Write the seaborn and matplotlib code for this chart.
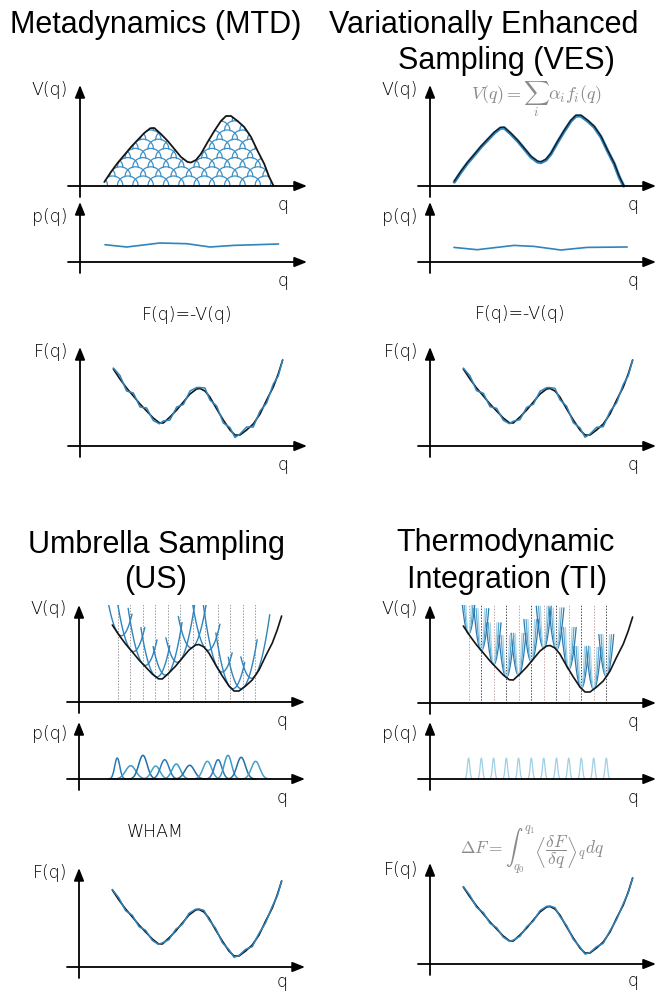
import numpy as np
import pandas as pd
import matplotlib
matplotlib.use("Agg")
import matplotlib.pyplot as plt
from matplotlib.path import Path
import seaborn as sns

sns.set_theme(style="white")
plt.rcParams["font.family"] = ["DejaVu Sans"]
plt.rcParams["mathtext.fontset"] = "cm"
plt.rcParams["text.color"] = "black"

W, H = 669, 992
PX_Q = 17.0   # pixels per q unit
PX_E = 10.0   # pixels per energy unit

BLUE = "#2f84bd"
HILL_BLUE = "#3c90c6"
BLACK = "#151515"

# ---- free-energy profile F(q) (black reference curve) ----
q_prof = [0.02, 0.41, 0.80, 1.20, 1.59, 1.98, 2.37, 2.73, 2.96, 3.35, 3.75, 4.14,
          4.53, 4.92, 5.12, 5.41, 5.70, 6.10, 6.49, 6.88, 7.18, 7.47, 7.86, 8.25,
          8.65, 9.04, 9.43, 9.72, 9.98]
F_prof = [7.7, 6.7, 5.8, 5.0, 4.2, 3.5, 2.8, 2.32, 2.3, 2.9, 3.6, 4.4,
          5.2, 5.7, 5.75, 5.5, 4.9, 3.7, 2.6, 1.6, 1.1, 1.1, 1.6, 2.2,
          3.2, 4.6, 5.9, 7.2, 8.6]
# deviations of the reconstructed (blue) profiles from F(q)
F_ripple = [0.1, 0.35, -0.3, 0.3, -0.3, 0.3, -0.25, -0.1, 0.2, -0.3, 0.3, -0.25,
            0.3, 0.15, 0.1, 0.3, -0.3, 0.3, -0.3, 0.25, -0.25, 0.1, 0.3, -0.3,
            0.3, -0.3, 0.3, -0.2, 0.0]
ripple_scale = {"MTD": 1.0, "VES": 0.9, "US": 0.55, "TI": 0.45}

# bias potential V(q) = C - F(q)
V_offset = 8.1

# flattened distributions p(q) of MTD and VES
p_mtd_q = [0.06, 1.34, 3.29, 4.87, 6.24, 7.61, 10.27]
p_mtd = [1.73, 1.50, 1.90, 1.83, 1.50, 1.66, 1.80]
p_ves_q = [0.00, 1.37, 3.53, 4.71, 6.28, 7.84, 10.19]
p_ves = [1.46, 1.23, 1.66, 1.56, 1.20, 1.46, 1.50]

# umbrella / TI window centres
win_q = [0.33, 1.08, 1.80, 2.55, 3.27, 4.02, 4.75, 5.50, 6.22, 6.96, 7.69, 8.43]

# umbrella-window histograms
us_p_center = [0.31, 1.10, 1.82, 2.57, 3.10, 3.78, 4.57, 5.61, 6.24, 6.82, 7.60, 8.45]
us_p_height = [2.10, 1.33, 2.37, 1.30, 1.93, 1.50, 1.37, 1.77, 1.93, 2.37, 2.17, 1.77]
us_p_sigma = [0.15, 0.30, 0.25, 0.25, 0.25, 0.25, 0.28, 0.25, 0.22, 0.22, 0.25, 0.25]

# TI constrained histograms
ti_p_height = 2.1
ti_p_sigma = 0.07

q_arr = np.array(q_prof)
F_arr = np.array(F_prof)
rip = np.array(F_ripple)

fig = plt.figure(figsize=(W / 100, H / 100), dpi=100)
fig.patch.set_facecolor("white")

TITLE = dict(fontsize=22, family=["Liberation Sans"], color="black", va="baseline",
             ha="center")
LABEL = dict(fontsize=12.5, color="black", fontweight="light")


def ftxt(x, y, s, **kw):
    fig.text(x / W, 1 - y / H, s, **kw)


def panel(ox, by, ty, q0, xend, ylabel, lab_dy, q_dy=19):
    left = ox - 12
    bottom = by + 11
    ax = fig.add_axes([left / W, 1 - bottom / H, (xend - left) / W, (bottom - ty) / H])
    xl = (q0 - 12 / PX_Q, q0 + (xend - ox) / PX_Q)
    yl = (-11 / PX_E, (by - ty) / PX_E)
    ax.set_xlim(*xl)
    ax.set_ylim(*yl)
    ax.axis("off")
    aprops = dict(arrowstyle="-|>,head_length=0.75,head_width=0.3", lw=1.3,
                  color="black", shrinkA=0, shrinkB=0, mutation_scale=10)
    ax.annotate("", xy=(xl[1], 0), xytext=(xl[0], 0), arrowprops=aprops,
                annotation_clip=False)
    ax.annotate("", xy=(q0, yl[1]), xytext=(q0, yl[0]), arrowprops=aprops,
                annotation_clip=False)
    ftxt(ox - 12, ty + lab_dy, ylabel, ha="right", va="center", **LABEL)
    ftxt(ox + 203, by + q_dy, "q", ha="center", va="center", **LABEL)
    return ax


def line(ax, x, y, color, lw, **kw):
    sns.lineplot(x=list(x), y=list(y), ax=ax, color=color, lw=lw, sort=False,
                 estimator=None, **kw)


def shapes(ax, frames, color, lw, **kw):
    df = pd.concat(frames, ignore_index=True)
    n0 = len(ax.lines)
    sns.lineplot(data=df, x="q", y="y", units="unit", estimator=None, sort=False,
                 color=color, lw=lw, ax=ax, **kw)
    return ax.lines[n0:]


V_arr = np.clip(V_offset - F_arr, 0, None)

# ================= Metadynamics =================
ftxt(156, 33, "Metadynamics (MTD)", **TITLE)

ax = panel(80, 186, 85, -1.41, 307, "V(q)", 5)
# deposited hills, stacked row by row under the bias (scale pattern)
hill_dq, hill_dv, hill_hw, hill_h = 0.9, 0.92, 0.62, 1.0
frames = []
uid = 0
for r in range(9):
    base = r * hill_dv
    for c in np.arange(-0.4 + (r % 2) * hill_dq / 2, 10.6, hill_dq):
        u = np.linspace(-1, 1, 31)
        frames.append(pd.DataFrame({"q": c + hill_hw * u,
                                    "y": base + hill_h * np.sqrt(1 - u ** 2),
                                    "unit": uid}))
        uid += 1
hill_lines = shapes(ax, frames, HILL_BLUE, 0.9)
clip = Path(np.column_stack([np.r_[q_arr, q_arr[-1], q_arr[0]],
                             np.r_[V_arr, 0, 0]]))
for ln in hill_lines:
    ln.set_clip_path(clip, ax.transData)
line(ax, q_arr, V_arr, BLACK, 1.3)

ax = panel(80, 262, 202, -1.41, 307, "p(q)", 15)
line(ax, p_mtd_q, p_mtd, BLUE, 1.2)

ftxt(187, 315, "F(q)=-V(q)", ha="center", va="center", **LABEL)
ax = panel(80, 446, 347, -1.94, 307, "F(q)", 5)
line(ax, q_arr, F_arr, BLACK, 1.2)
line(ax, q_arr, F_arr + ripple_scale["MTD"] * rip, BLUE, 1.1)

# ================= VES =================
ftxt(484, 33, "Variationally Enhanced", **TITLE)
ftxt(506, 69, "Sampling (VES)", **TITLE)

ax = panel(430, 186, 85, -1.41, 656, "V(q)", 5)
line(ax, q_arr, V_arr, BLUE, 2.4)
line(ax, q_arr, V_arr + 0.08, BLACK, 0.9)
ftxt(536, 99, r"$V(q) = \sum_i \alpha_i f_i(q)$", ha="center", va="center",
     fontsize=13, color="#8a8a8a")

ax = panel(430, 262, 202, -1.41, 656, "p(q)", 15)
line(ax, p_ves_q, p_ves, BLUE, 1.2)

ftxt(520, 314, "F(q)=-V(q)", ha="center", va="center", **LABEL)
ax = panel(430, 446, 347, -1.94, 656, "F(q)", 5)
line(ax, q_arr, F_arr, BLACK, 1.2)
line(ax, q_arr, F_arr + ripple_scale["VES"] * rip, BLUE, 1.1)

# ================= Umbrella sampling =================
ftxt(156, 553, "Umbrella Sampling", **TITLE)
ftxt(156, 588, "(US)", **TITLE)

F_win = np.interp(win_q, q_arr, F_arr)
slope_win = np.interp(win_q, q_arr, np.gradient(F_arr, q_arr))

ax = panel(79, 702, 605, -1.94, 305, "V(q)", 4)
ax.vlines(win_q, 0, 10.2, colors="#9a9a9a", lw=0.7, linestyles=(0, (1.5, 1.5)))
frames = []
for i, c in enumerate(win_q):
    qq = np.linspace(c - 0.85, c + 0.85, 40)
    frames.append(pd.DataFrame({"q": qq,
                                "y": F_win[i] + slope_win[i] * (qq - c) + 5.5 * (qq - c) ** 2,
                                "unit": i}))
shapes(ax, frames, BLUE, 1.0)
line(ax, q_arr, F_arr, BLACK, 1.2)

ax = panel(79, 779, 722, -1.94, 305, "p(q)", 12)
us_cols = ["#2b7bb9", "#3a9bc9", "#1f6fa8", "#4aa3c4"]
for i, (c, h, s) in enumerate(zip(us_p_center, us_p_height, us_p_sigma)):
    qq = np.linspace(c - 3.5 * s, c + 3.5 * s, 50)
    line(ax, qq, h * np.exp(-(qq - c) ** 2 / (2 * s ** 2)), us_cols[i % 4], 1.1)

ftxt(155, 832, "WHAM", ha="center", va="center", **LABEL)
ax = panel(79, 967, 868, -1.94, 305, "F(q)", 5, q_dy=15)
line(ax, q_arr, F_arr, BLACK, 1.2)
line(ax, q_arr, F_arr + ripple_scale["US"] * rip, BLUE, 1.1)

# ================= Thermodynamic integration =================
ftxt(506, 551, "Thermodynamic", **TITLE)
ftxt(507, 588, "Integration (TI)", **TITLE)

ax = panel(430, 703, 605, -1.94, 656, "V(q)", 4)
ti_line_cols = ["#c9a3a3", "#4a4a4a"]
ax.vlines(win_q, 0, 10.3, colors=[ti_line_cols[i % 2] for i in range(len(win_q))],
          lw=0.7, linestyles=(0, (1.5, 1.5)))
stiff = [22, 45, 110]
stiff_cols = ["#2a78ad", "#5aa6cf", "#a9d7ea"]
for k, col in zip(stiff, stiff_cols):
    half = np.sqrt(4.2 / k)
    frames = []
    for i, c in enumerate(win_q):
        qq = np.linspace(c - half, c + half, 30)
        frames.append(pd.DataFrame({"q": qq, "y": F_win[i] + k * (qq - c) ** 2,
                                    "unit": i}))
    shapes(ax, frames, col, 0.9)
line(ax, q_arr, F_arr, BLACK, 1.2)

ax = panel(430, 779, 722, -1.94, 656, "p(q)", 12)
for c in win_q:
    qq = np.linspace(c - 4 * ti_p_sigma, c + 4 * ti_p_sigma, 30)
    line(ax, qq, ti_p_height * np.exp(-(qq - c) ** 2 / (2 * ti_p_sigma ** 2)),
         "#9fd0e4", 0.9)

ftxt(532, 850,
     r"$\Delta F = \int_{q_0}^{q_1} \left\langle \dfrac{\delta F}{\delta q} \right\rangle_q dq$",
     ha="center", va="center", fontsize=12.5, color="#8a8a8a")
ax = panel(430, 964, 863, -1.94, 656, "F(q)", 7, q_dy=17)
line(ax, q_arr, F_arr, BLACK, 1.2)
line(ax, q_arr, F_arr + ripple_scale["TI"] * rip, BLUE, 1.1)

fig.savefig("out.png", dpi=100, facecolor="white")
